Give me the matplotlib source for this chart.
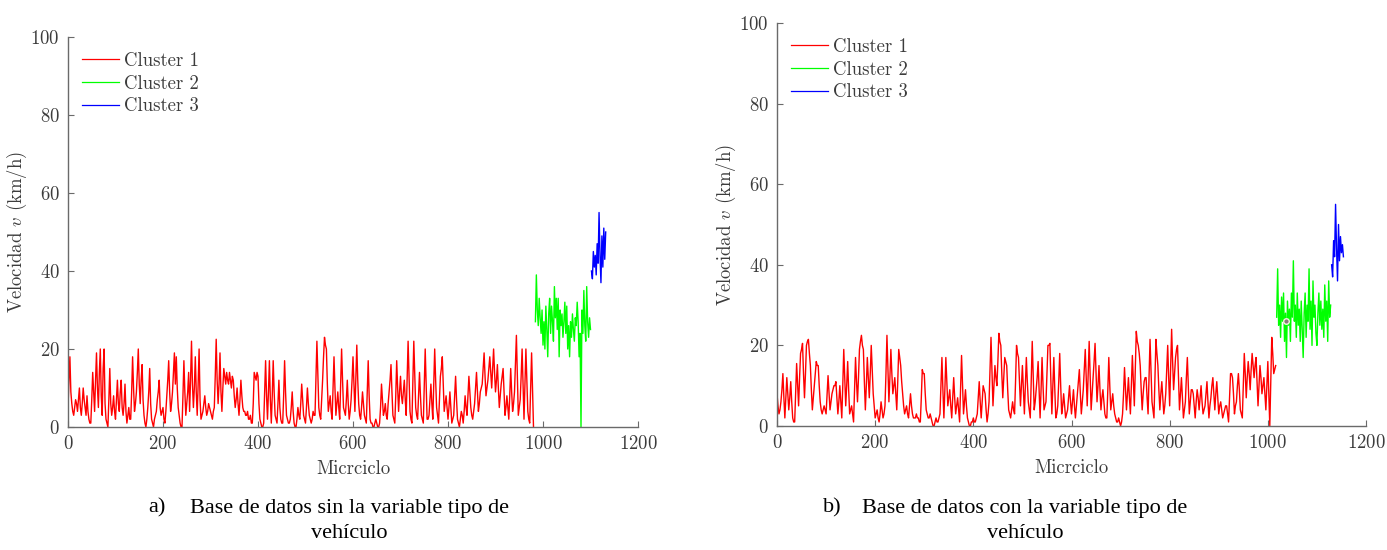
import numpy as np
import matplotlib.pyplot as plt

# ---- data ----
# panel a: Base de datos sin la variable tipo de vehiculo
# cluster 1 is kept as two sample lists: the main samples and the ones in between
a_c1_start, a_c1_step = 0, 4
a_cluster1 = [
    5, 18, 6, 3, 7, 4, 10, 3, 10, 5,
    8, 2, 1, 14, 4, 19, 5, 20, 3, 20,
    2, 0, 15, 3, 8, 2, 12, 4, 12, 3,
    11, 1, 5, 2, 18, 4, 9, 20, 6, 16,
    3, 0, 5, 15, 2, 0, 3, 7, 12, 3,
    5, 1, 8, 17, 4, 9, 19, 18, 5, 1,
    0, 17, 3, 9, 4, 22, 5, 18, 3, 20,
    2, 4, 8, 3, 6, 4, 2, 5, 22.5, 6,
    19, 4, 15, 11, 12, 14, 10, 12, 5, 10,
    3, 12, 5, 4, 3, 2, 3, 1, 14, 12,
    13, 2, 0, 1, 17, 2, 17, 1, 17, 3,
    1, 12, 2, 1, 17, 3, 1, 2, 9, 1,
    0, 5, 2, 11, 3, 1, 10, 3, 1, 4,
    3, 22, 5, 2, 12, 23, 20, 4, 8, 2,
    18, 3, 9, 2, 20, 5, 3, 12, 2, 7,
    18, 4, 21, 6, 2, 9, 3, 1, 17, 2,
    1, 0, 2, 0, 1, 11, 3, 6, 2, 9,
    16, 3, 1, 17, 4, 13, 6, 12, 3, 22,
    4, 1, 22, 5, 2, 14, 3, 1, 20, 2,
    3, 11, 2, 20, 5, 1, 13, 18, 4, 8,
    2, 9, 1, 3, 13, 2, 0, 4, 1, 8,
    3, 13, 5, 2, 6, 14, 4, 9, 11, 19,
    8, 12, 18, 10, 20, 9, 16, 5, 11, 15,
    3, 8, 2, 15, 4, 9, 23.5, 3, 7, 20,
    2, 20, 4, 1, 19, 0,
]
a_cluster1_mid = [
    12, 9, 4, 5, 6, 7, 5, 6, 7, 3,
    4, 1, 7, 9, 12, 10, 14, 8, 15, 6,
    1, 7, 6, 5, 4, 7, 6, 9, 5, 6,
    4, 3, 2, 9, 10, 6, 14, 11, 12, 7,
    1, 2, 9, 6, 1, 2, 4, 9, 5, 4,
    2, 4, 12, 9, 6, 14, 11, 10, 3, 0,
    8, 9, 6, 14, 12, 11, 10, 9, 11, 7,
    3, 6, 5, 4, 5, 3, 4, 13, 12, 11,
    9, 10, 13, 14, 11, 12, 13, 8, 7, 6,
    7, 8, 4, 3, 4, 2, 1, 6, 13, 14,
    6, 1, 0, 9, 8, 9, 7, 8, 9, 2,
    6, 5, 1, 8, 9, 2, 1, 5, 4, 0,
    2, 3, 6, 7, 2, 5, 6, 2, 2, 3,
    12, 13, 3, 7, 18, 21, 11, 6, 4, 10,
    10, 6, 5, 11, 12, 4, 7, 6, 4, 12,
    11, 13, 12, 3, 5, 6, 2, 9, 8, 1,
    0, 1, 1, 0, 5, 7, 4, 3, 6, 12,
    9, 2, 8, 10, 9, 8, 9, 7, 12, 13,
    2, 11, 13, 3, 8, 8, 2, 10, 11, 2,
    7, 6, 11, 12, 3, 7, 15, 11, 6, 5,
    5, 5, 2, 8, 7, 1, 2, 3, 4, 5,
    8, 9, 3, 4, 10, 9, 6, 10, 15, 13,
    10, 15, 14, 15, 14, 12, 10, 8, 13, 9,
    5, 5, 8, 9, 6, 16, 13, 5, 13, 11,
    11, 12, 2, 10, 9,
]
a_c2_start, a_c2_step = 984, 2
a_cluster2 = [
    27, 39, 30, 26, 33, 28, 24, 30, 21, 27,
    20, 31, 25, 18, 29, 33, 24, 31, 27, 22,
    36, 28, 33, 25, 33, 18, 30, 26, 29, 23,
    27, 32, 24, 31, 20, 26, 18, 27, 23, 29,
    25, 22, 28, 26, 32, 27, 18, 24, 0, 30,
    24, 35, 26, 22, 36, 27, 23, 28, 25,
]
a_c3_start, a_c3_step = 1102, 2
a_cluster3 = [40, 38, 45, 41, 44, 39, 47, 42, 55, 44, 37, 49, 41, 51, 43, 50]

# panel b: Base de datos con la variable tipo de vehiculo
b_c1_start, b_c1_step = 0, 4
b_cluster1 = [
    8, 3, 6, 13, 2, 12, 4, 11, 2, 1,
    15.5, 5, 18, 20.5, 7, 20, 21.5, 15, 4, 10,
    16, 15, 6, 3, 5, 3, 12.5, 4, 8, 10,
    11, 3, 10, 2, 19, 5, 16, 3, 5, 1,
    17, 6, 19, 22.5, 19, 4, 17, 7, 20, 8,
    2, 4, 1, 6, 2, 5, 22.5, 6, 19, 8,
    12, 4, 19, 15, 8, 3, 5, 2, 8, 3,
    2, 3, 2, 1, 14, 13, 4, 2, 3, 1,
    0, 2, 1, 3, 17, 2, 17, 5, 9, 2,
    12, 3, 7, 1, 17.5, 3, 9, 2, 0, 1,
    2, 1, 3, 11, 2, 10, 8, 1, 6, 22,
    5, 15, 10, 23, 20, 7, 17, 15, 4, 2,
    6, 3, 20, 17, 5, 15, 3, 17, 6, 2,
    21, 4, 9, 16, 2, 17, 4, 6, 20, 20.5,
    3, 17, 2, 5, 18, 3, 8, 2, 4, 10,
    3, 9, 2, 8, 14, 3, 9, 19, 5, 21,
    4, 12, 20.5, 6, 15, 4, 9, 3, 2, 17,
    4, 8, 3, 1, 2, 0, 3, 14.5, 4, 12,
    3, 17.5, 5, 23.5, 20, 15, 4, 11, 12, 3,
    21.5, 6, 2, 21.5, 15, 4, 11, 3, 8, 20,
    5, 24, 9, 17, 20, 4, 12, 2, 6, 17,
    3, 9, 8, 2, 9, 4, 10, 3, 5, 11,
    2, 7, 12, 4, 11, 3, 6, 2, 4, 5,
    1, 13, 12, 3, 6, 13, 4, 2, 18, 7,
    16, 9, 18, 12, 17, 5, 15, 8, 12, 4,
    16, 0, 22, 13, 15,
]
b_cluster1_mid = [
    5, 4, 9, 7, 7, 8, 7, 6, 1, 8,
    10, 12, 19, 13, 13, 21, 18, 9, 7, 13,
    15, 10, 4, 4, 4, 8, 8, 6, 9, 10,
    7, 6, 6, 10, 12, 10, 9, 4, 3, 9,
    11, 12, 21, 20, 11, 10, 12, 13, 14, 5,
    3, 2, 3, 4, 3, 13, 14, 12, 13, 10,
    8, 11, 17, 11, 5, 4, 3, 5, 5, 2,
    2, 2, 1, 7, 13, 8, 3, 2, 2, 0,
    1, 1, 2, 10, 9, 9, 11, 7, 5, 7,
    7, 5, 4, 9, 10, 6, 5, 1, 0, 1,
    1, 2, 7, 6, 6, 9, 4, 3, 14, 13,
    10, 12, 16, 21, 13, 12, 16, 9, 3, 4,
    4, 11, 18, 11, 10, 9, 10, 11, 4, 12,
    12, 6, 12, 9, 9, 10, 5, 13, 20, 11,
    10, 9, 3, 11, 10, 5, 5, 3, 7, 6,
    6, 5, 5, 11, 8, 6, 14, 12, 13, 12,
    8, 16, 13, 10, 9, 7, 6, 2, 9, 10,
    6, 5, 2, 1, 1, 1, 8, 9, 8, 7,
    10, 11, 14, 21, 18, 9, 8, 12, 7, 12,
    14, 4, 12, 18, 9, 8, 7, 5, 14, 12,
    15, 16, 13, 19, 12, 8, 7, 4, 12, 10,
    6, 9, 5, 6, 7, 7, 6, 4, 8, 6,
    5, 10, 8, 8, 7, 5, 4, 3, 5, 3,
    7, 13, 8, 5, 10, 9, 3, 10, 13, 12,
    13, 14, 15, 15, 11, 10, 12, 10, 8, 10,
    8, 11, 18, 14,
]
b_c2_start, b_c2_step = 1018, 2
b_cluster2 = [
    27, 39, 25, 30, 22, 32, 26, 33, 21, 28,
    17, 31, 25, 29, 21, 33, 27, 41, 26, 30,
    22, 33, 25, 29, 21, 31, 24, 17, 28, 33,
    22, 30, 26, 39, 24, 31, 20, 36, 27, 30,
    23, 20, 28, 33, 25, 31, 24, 29, 22, 35,
    26, 31, 21, 36, 27, 30,
]
b_c3_start, b_c3_step = 1130, 2
b_cluster3 = [40, 37, 46, 42, 55, 44, 36, 50, 41, 47, 43, 45, 42]
b_marker_x = [1038]
b_marker_y = [26]

labels = ['Cluster 1', 'Cluster 2', 'Cluster 3']
colors = ['#ff0000', '#00ff00', '#0000ff']
xticks = [0, 200, 400, 600, 800, 1000, 1200]
yticks = [0, 20, 40, 60, 80, 100]

plt.rcParams['font.family'] = 'serif'
plt.rcParams['font.serif'] = ['cmr10']
plt.rcParams['mathtext.fontset'] = 'cm'
plt.rcParams['axes.formatter.use_mathtext'] = True

AXIS_GRAY = '#6a6a6a'
TEXT_GRAY = '#3c3c3c'


def xs(start, step, values):
    return start + step * np.arange(len(values))


def merge(start, step, main, mid):
    # main samples sit on the step grid, mid samples half a step later
    x = np.concatenate([xs(start, step, main), xs(start + step / 2, step, mid)])
    y = np.concatenate([main, mid])
    order = np.argsort(x, kind='stable')
    return x[order], y[order]


def draw_panel(ax, series, marker=None):
    for (x, y), lab, col in zip(series, labels, colors):
        ax.plot(x, y, color=col, linewidth=1.0, label=lab)
    if marker is not None:
        ax.plot(marker[0], marker[1], 'o', markersize=4, markerfacecolor='#8a7a7a',
                markeredgecolor='#f4f4e0', markeredgewidth=1.0)
    ax.set_xlim(0, 1200)
    ax.set_ylim(0, 100)
    ax.set_xticks(xticks)
    ax.set_yticks(yticks)
    for s in ['top', 'right']:
        ax.spines[s].set_visible(False)
    for s in ['left', 'bottom']:
        ax.spines[s].set_color(AXIS_GRAY)
        ax.spines[s].set_linewidth(1.0)
    ax.tick_params(direction='in', length=4, width=0.8, color=AXIS_GRAY,
                   labelcolor=TEXT_GRAY, labelsize=13.5, pad=6)
    ax.set_xlabel('Micrciclo', fontsize=13.5, color=TEXT_GRAY, labelpad=4.5)
    ax.set_ylabel('Velocidad $v$ (km/h)', fontsize=13.5, color=TEXT_GRAY, labelpad=1)
    leg = ax.legend(loc='upper left', frameon=False, fontsize=13.5, handlelength=2.0,
                    handletextpad=0.25, labelspacing=0.25, borderaxespad=0.4,
                    bbox_to_anchor=(-0.002, 1.0))
    for line in leg.get_lines():
        line.set_linewidth(0.9)
    for t in leg.get_texts():
        t.set_color(TEXT_GRAY)


fig = plt.figure(figsize=(13.87, 5.5), dpi=100)
ax_a = fig.add_axes([68 / 1387, 123 / 550, 570 / 1387, 390 / 550])
ax_b = fig.add_axes([777 / 1387, 124 / 550, 589 / 1387, 403 / 550])

draw_panel(ax_a, [merge(a_c1_start, a_c1_step, a_cluster1, a_cluster1_mid),
                  (xs(a_c2_start, a_c2_step, a_cluster2), a_cluster2),
                  (xs(a_c3_start, a_c3_step, a_cluster3), a_cluster3)])
draw_panel(ax_b, [merge(b_c1_start, b_c1_step, b_cluster1, b_cluster1_mid),
                  (xs(b_c2_start, b_c2_step, b_cluster2), b_cluster2),
                  (xs(b_c3_start, b_c3_step, b_cluster3), b_cluster3)],
           marker=(b_marker_x, b_marker_y))

# captions
cap = dict(fontsize=16, family='Liberation Serif', color='black', va='center')
fig.text(148 / 1387, 1 - 508 / 550, 'a)', ha='left', **cap)
fig.text(349 / 1387, 1 - 508 / 550, 'Base de datos sin la variable tipo de', ha='center', **cap)
fig.text(349 / 1387, 1 - 533 / 550, 'vehículo', ha='center', **cap)
fig.text(823 / 1387, 1 - 508 / 550, 'b)', ha='left', **cap)
fig.text(1025 / 1387, 1 - 508 / 550, 'Base de datos con la variable tipo de', ha='center', **cap)
fig.text(1025 / 1387, 1 - 533 / 550, 'vehículo', ha='center', **cap)

fig.savefig('out.png', dpi=100, facecolor='white')
